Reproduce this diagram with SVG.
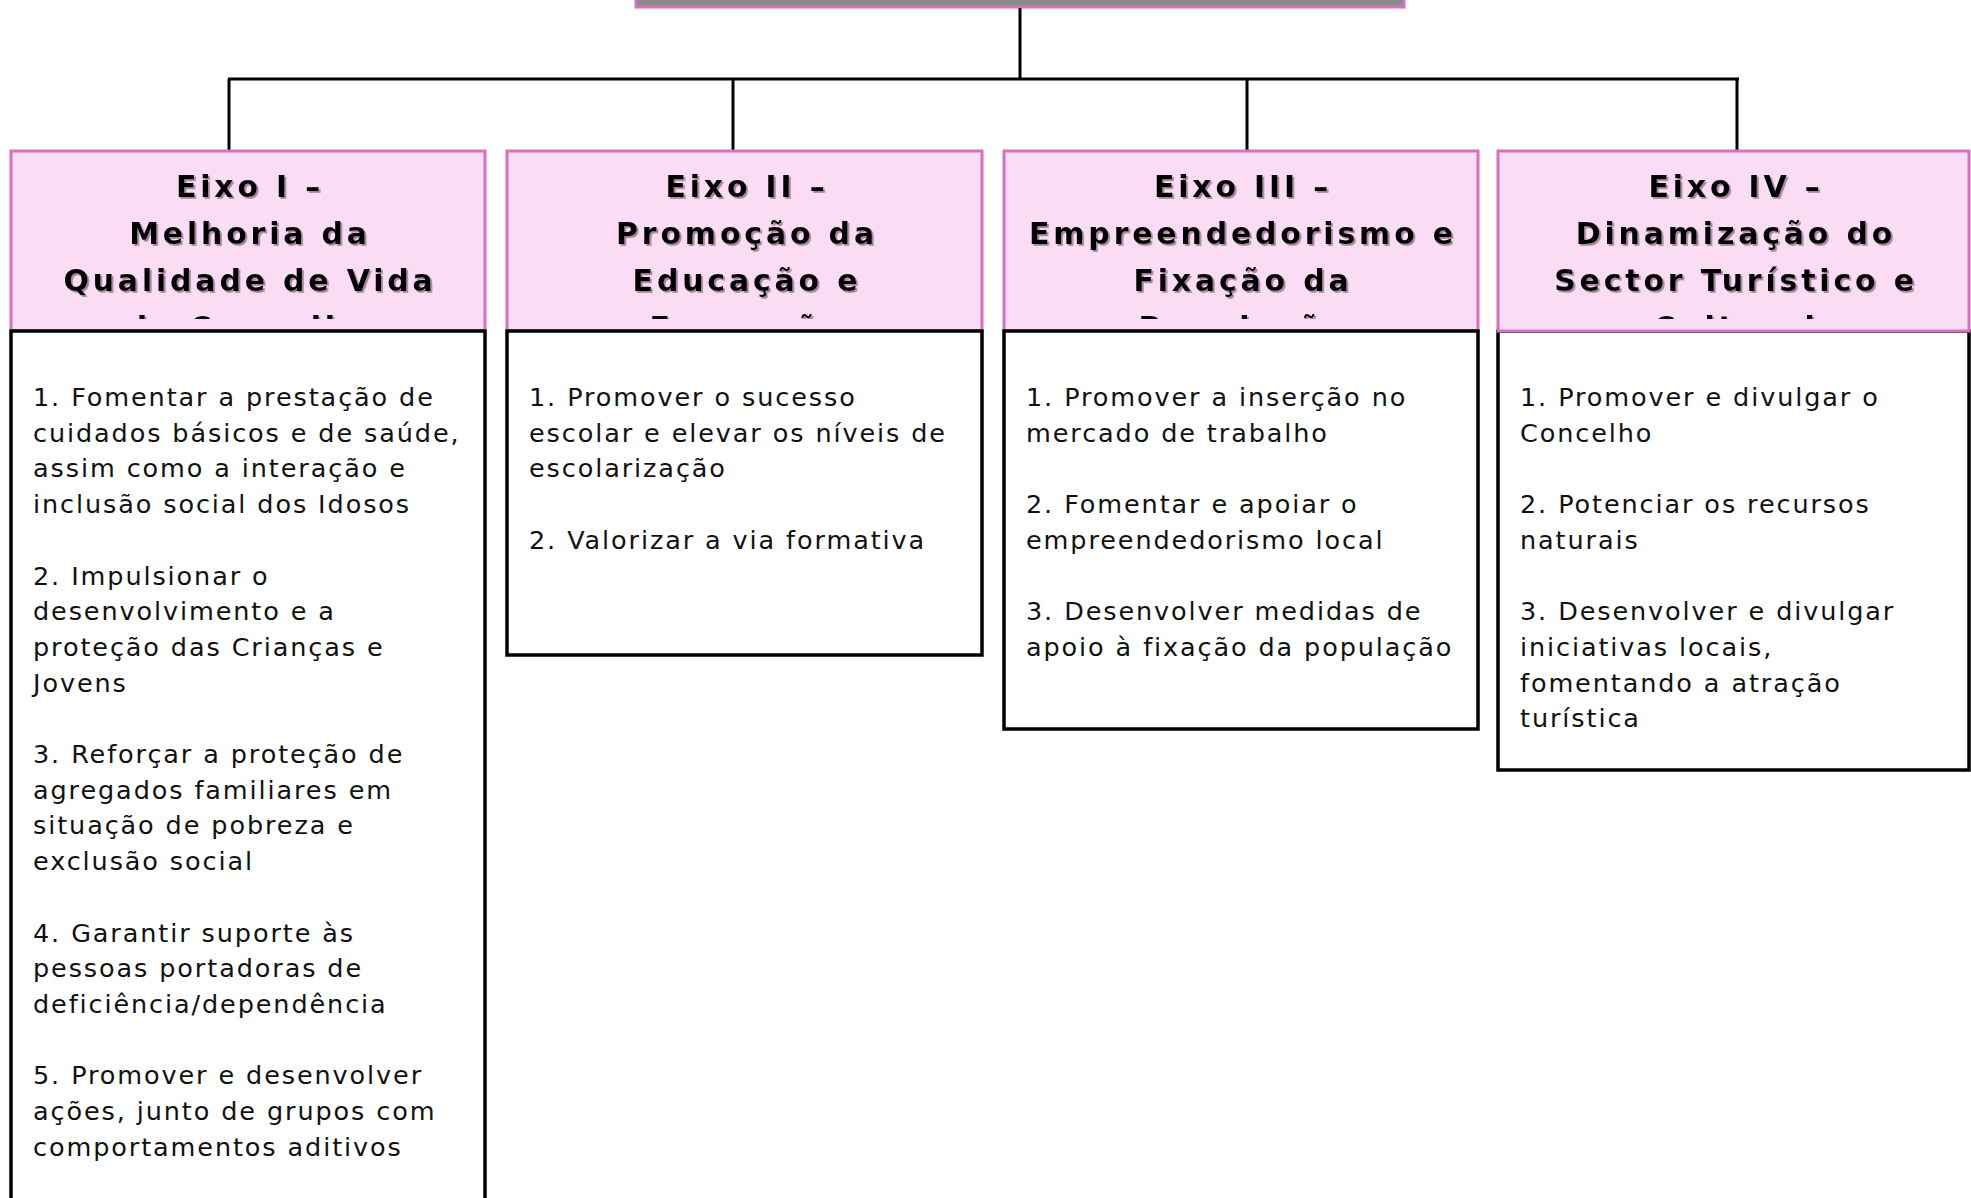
<svg xmlns="http://www.w3.org/2000/svg" width="1971" height="1198" viewBox="0 0 1971 1198">
<style>
.hdr{fill:#fadcf5;stroke:#d870c0;stroke-width:3}
.body{fill:#ffffff;stroke:#000000;stroke-width:3.5}
.conn{stroke:#000000;stroke-width:3;fill:none}
.ht{font-family:"DejaVu Sans",Verdana,sans-serif;font-weight:bold;font-size:30px;letter-spacing:3.8px;fill:#000;text-anchor:middle}
.bt{font-family:"DejaVu Sans",Verdana,sans-serif;font-size:25.5px;letter-spacing:1.9px;fill:#111}
</style>
<defs>
<filter id="sh" x="-5%" y="-20%" width="110%" height="140%">
<feDropShadow dx="1.8" dy="1.8" stdDeviation="0.6" flood-color="#9a7a90" flood-opacity="0.9"/>
</filter>
<clipPath id="c1"><rect x="12" y="152" width="472" height="167"/></clipPath>
<clipPath id="c2"><rect x="508" y="152" width="472" height="167"/></clipPath>
<clipPath id="c3"><rect x="1005" y="152" width="472" height="167"/></clipPath>
<clipPath id="c4"><rect x="1499" y="152" width="470" height="167"/></clipPath>
</defs>
<rect width="1971" height="1198" fill="#ffffff"/>

<g id="top">
<rect x="636" y="-10" width="768" height="17" fill="#8a8a8a" stroke="#d870c0" stroke-width="3"/>
</g>

<g id="connectors">
<line class="conn" x1="1020" y1="8" x2="1020" y2="79"/>
<line class="conn" x1="228" y1="79" x2="1739" y2="79"/>
<line class="conn" x1="229" y1="79" x2="229" y2="151"/>
<line class="conn" x1="733" y1="79" x2="733" y2="151"/>
<line class="conn" x1="1247" y1="79" x2="1247" y2="151"/>
<line class="conn" x1="1737" y1="79" x2="1737" y2="151"/>
</g>

<g id="eixo1">
<rect class="hdr" x="11" y="151" width="474" height="180"/>
<g clip-path="url(#c1)" filter="url(#sh)">
<text class="ht" x="250" y="197">Eixo I –</text>
<text class="ht" x="250" y="244">Melhoria da</text>
<text class="ht" x="250" y="291">Qualidade de Vida</text>
<text class="ht" x="250" y="338">do Concelho</text>
</g>
<rect class="body" x="11" y="331" width="474" height="920"/>
<text class="bt">
<tspan x="33" y="406">1. Fomentar a prestação de</tspan>
<tspan x="33" y="441.7">cuidados básicos e de saúde,</tspan>
<tspan x="33" y="477.4">assim como a interação e</tspan>
<tspan x="33" y="513.1">inclusão social dos Idosos</tspan>
<tspan x="33" y="584.5">2. Impulsionar o</tspan>
<tspan x="33" y="620.2">desenvolvimento e a</tspan>
<tspan x="33" y="655.9">proteção das Crianças e</tspan>
<tspan x="33" y="691.6">Jovens</tspan>
<tspan x="33" y="763">3. Reforçar a proteção de</tspan>
<tspan x="33" y="798.7">agregados familiares em</tspan>
<tspan x="33" y="834.4">situação de pobreza e</tspan>
<tspan x="33" y="870.1">exclusão social</tspan>
<tspan x="33" y="941.5">4. Garantir suporte às</tspan>
<tspan x="33" y="977.2">pessoas portadoras de</tspan>
<tspan x="33" y="1012.9">deficiência/dependência</tspan>
<tspan x="33" y="1084.3">5. Promover e desenvolver</tspan>
<tspan x="33" y="1120">ações, junto de grupos com</tspan>
<tspan x="33" y="1155.7">comportamentos aditivos</tspan>
</text>
</g>

<g id="eixo2">
<rect class="hdr" x="507" y="151" width="475" height="180"/>
<g clip-path="url(#c2)" filter="url(#sh)">
<text class="ht" x="747" y="197">Eixo II –</text>
<text class="ht" x="747" y="244">Promoção da</text>
<text class="ht" x="747" y="291">Educação e</text>
<text class="ht" x="747" y="338">Formação</text>
</g>
<rect class="body" x="507" y="331" width="475" height="324"/>
<text class="bt">
<tspan x="529" y="406">1. Promover o sucesso</tspan>
<tspan x="529" y="441.7">escolar e elevar os níveis de</tspan>
<tspan x="529" y="477.4">escolarização</tspan>
<tspan x="529" y="548.8">2. Valorizar a via formativa</tspan>
</text>
</g>

<g id="eixo3">
<rect class="hdr" x="1004" y="151" width="474" height="180"/>
<g clip-path="url(#c3)" filter="url(#sh)">
<text class="ht" x="1243" y="197">Eixo III –</text>
<text class="ht" x="1243" y="244">Empreendedorismo e</text>
<text class="ht" x="1243" y="291">Fixação da</text>
<text class="ht" x="1243" y="338">População</text>
</g>
<rect class="body" x="1004" y="331" width="474" height="398"/>
<text class="bt">
<tspan x="1026" y="406">1. Promover a inserção no</tspan>
<tspan x="1026" y="441.7">mercado de trabalho</tspan>
<tspan x="1026" y="513.1">2. Fomentar e apoiar o</tspan>
<tspan x="1026" y="548.8">empreendedorismo local</tspan>
<tspan x="1026" y="620.2">3. Desenvolver medidas de</tspan>
<tspan x="1026" y="655.9">apoio à fixação da população</tspan>
</text>
</g>

<g id="eixo4">
<rect class="body" x="1498" y="331" width="471" height="439"/>
<rect class="hdr" x="1498" y="151" width="471" height="180"/>
<g clip-path="url(#c4)" filter="url(#sh)">
<text class="ht" x="1736" y="197">Eixo IV –</text>
<text class="ht" x="1736" y="244">Dinamização do</text>
<text class="ht" x="1736" y="291">Sector Turístico e</text>
<text class="ht" x="1736" y="338">Cultural</text>
</g>
<text class="bt">
<tspan x="1520" y="406">1. Promover e divulgar o</tspan>
<tspan x="1520" y="441.7">Concelho</tspan>
<tspan x="1520" y="513.1">2. Potenciar os recursos</tspan>
<tspan x="1520" y="548.8">naturais</tspan>
<tspan x="1520" y="620.2">3. Desenvolver e divulgar</tspan>
<tspan x="1520" y="655.9">iniciativas locais,</tspan>
<tspan x="1520" y="691.6">fomentando a atração</tspan>
<tspan x="1520" y="727.3">turística</tspan>
</text>
</g>
</svg>
